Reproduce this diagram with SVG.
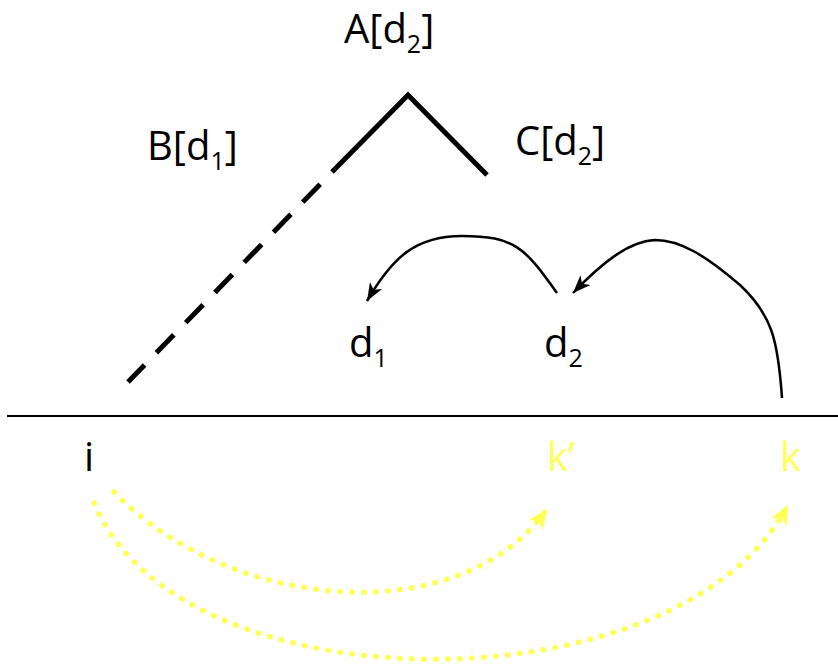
<svg xmlns="http://www.w3.org/2000/svg" width="838" height="665" viewBox="0 0 838 665">
<defs>
<style>
.t{font-family:"Open Sans","Noto Sans",sans-serif;font-size:40px;fill:#000}
.s{font-size:25px}
.y{fill:#ffff55}
.tree{stroke:#000;stroke-width:5;fill:none}
.arc{stroke:#000;stroke-width:2.5;fill:none}
.dot{stroke:#ffff55;stroke-width:5.5;fill:none;stroke-dasharray:0.5 11.5;stroke-linecap:round}
</style>
<marker id="ab" markerUnits="userSpaceOnUse" markerWidth="20" markerHeight="20" viewBox="0 0 20 20" refX="18" refY="10" orient="auto">
<path d="M0,3 L18,10 L0,17 L5,10 Z" fill="#000"/>
</marker>
<marker id="ay" markerUnits="userSpaceOnUse" markerWidth="24" markerHeight="24" viewBox="0 0 24 24" refX="20" refY="12" orient="auto">
<path d="M0,3 L20,12 L0,21 L6,12 Z" fill="#ffff55"/>
</marker>
</defs>
<rect width="838" height="665" fill="#fff"/>
<g id="tree">
<polyline class="tree" points="332,172 408,95 487,175"/>
<line class="tree" x1="332" y1="172" x2="128" y2="382" stroke-dasharray="0 17 25 17 25 17 25 17 25 17 25 17 25 17 25"/>
</g>
<g id="baseline"><line x1="7" y1="416" x2="838" y2="416" stroke="#000" stroke-width="2"/></g>
<g id="connectors">
<path class="arc" d="M557,293 C525,248 515,236 462,236 C415,236 392,258 367,301" marker-end="url(#ab)"/>
<path class="arc" d="M782,398 C778,340 772,315 740,285 C705,255 680,240 655,240 C628,241 600,265 573,293" marker-end="url(#ab)"/>
<path class="dot" d="M114,492 C230,612 460,632 547,509" marker-end="url(#ay)"/>
<path class="dot" d="M94,503 C180,711 680,711 788,505" marker-end="url(#ay)"/>
</g>
<g id="A"><text class="t" x="344" y="43">A[d<tspan class="s" dy="10">2</tspan><tspan dy="-10">]</tspan></text></g>
<g id="B"><text class="t" x="147" y="160">B[d<tspan class="s" dy="10">1</tspan><tspan dy="-10">]</tspan></text></g>
<g id="C"><text class="t" x="515" y="155">C[d<tspan class="s" dy="10">2</tspan><tspan dy="-10">]</tspan></text></g>
<g id="d1"><text class="t" x="349" y="357">d<tspan class="s" dy="10">1</tspan></text></g>
<g id="d2"><text class="t" x="544" y="357">d<tspan class="s" dy="10">2</tspan></text></g>
<g id="i"><text class="t" x="84" y="471">i</text></g>
<g id="kp"><text class="t y" x="547" y="471">k’</text></g>
<g id="k"><text class="t y" x="780" y="471">k</text></g>
</svg>
